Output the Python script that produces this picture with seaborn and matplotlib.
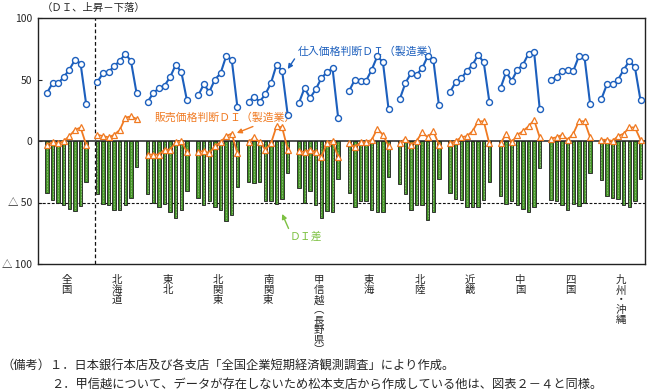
import matplotlib
matplotlib.use("Agg")
import matplotlib.pyplot as plt
import numpy as np
import pandas as pd
import seaborn as sns

sns.set_theme(style="white")
plt.rcParams['font.family'] = ['Noto Sans CJK JP', 'DejaVu Sans']

#-- data (8 quarters per region)
regions = ["全国", "北海道", "東北", "北関東", "南関東", "甲信越（長野県）",
           "東海", "北陸", "近畿", "中国", "四国", "九州・沖縄"]
region_labels = ["全\n国", "北\n海\n道", "東\n北", "北\n関\n東", "南\n関\n東",
                 "甲\n信\n越\n︵\n長\n野\n県\n︶", "東\n海", "北\n陸", "近\n畿",
                 "中\n国", "四\n国", "九\n州\n・\n沖\n縄"]

buy_di = [
    [39, 47, 47, 52, 58, 66, 63, 30],
    [48, 55, 56, 61, 65, 71, 65, 39],
    [32, 39, 43, 45, 52, 62, 56, 33],
    [37, 46, 40, 50, 55, 69, 66, 28],
    [32, 36, 32, 38, 47, 62, 57, 21],
    [31, 43, 35, 42, 51, 56, 59, 19],
    [41, 50, 49, 49, 58, 69, 64, 26],
    [34, 47, 55, 54, 59, 69, 66, 29],
    [40, 48, 51, 57, 62, 70, 64, 32],
    [43, 56, 49, 58, 62, 71, 72, 26],
    [50, 52, 57, 58, 57, 69, 68, 30],
    [34, 46, 46, 50, 58, 65, 60, 33],
]
sell_di = [
    [-3, -1, -2, 0, 4, 9, 11, -3],
    [5, 4, 3, 5, 9, 19, 20, 18],
    [-11, -11, -11, -7, -7, -1, 0, -9],
    [-9, -8, -10, -4, -1, 4, 6, -10],
    [-1, 3, -1, -7, -2, 12, 11, -7],
    [-8, -9, -7, -9, -13, -2, 0, -13],
    [-2, -5, -1, -1, 1, 10, 5, -4],
    [-2, 2, -3, 0, 7, 3, 8, -3],
    [-2, 0, 3, 4, 8, 16, 16, -2],
    [-2, 6, -1, 5, 8, 12, 17, 3],
    [2, 3, 5, 1, 6, 16, 16, 3],
    [1, 1, 0, 4, 6, 11, 11, 1],
]
gap_di = [
    [-42, -48, -50, -52, -55, -57, -53, -33],
    [-43, -51, -52, -56, -56, -52, -46, -21],
    [-43, -50, -54, -51, -58, -63, -56, -41],
    [-46, -52, -49, -54, -56, -65, -60, -37],
    [-33, -34, -33, -49, -49, -51, -47, -26],
    [-38, -50, -41, -52, -63, -57, -58, -31],
    [-42, -54, -49, -49, -56, -58, -58, -29],
    [-35, -43, -56, -52, -52, -64, -58, -31],
    [-42, -47, -48, -54, -54, -54, -48, -33],
    [-45, -51, -49, -52, -55, -58, -54, -22],
    [-48, -49, -52, -56, -51, -53, -50, -26],
    [-32, -45, -46, -47, -52, -54, -49, -31],
]

BLUE = "#1c5fbd"
ORANGE = "#f07a22"
GREEN = "#3f8f22"
LGREEN = "#7dc142"

#-- long dataframe, 9 slots per region (8 quarters + 1 gap)
rows = []
for g, reg in enumerate(regions):
    for q in range(8):
        rows.append([reg, g * 9 + q, buy_di[g][q], sell_di[g][q], gap_di[g][q]])
df = pd.DataFrame(rows, columns=["region", "pos", "buy", "sell", "gap"])

fig = plt.figure(figsize=(6.48, 3.91), dpi=100)
ax = fig.add_axes([38 / 648, 1 - 264 / 391, 607 / 648, 246 / 391])

ax.axhline(0, color="#333333", lw=1.2, zorder=1.5)
ax.axhline(-50, color="#111111", lw=0.8, ls=(0, (2.5, 1.5)), zorder=1.5)
ax.axvline(8.5, color="#111111", lw=0.9, ls=(0, (3, 2)), zorder=1.5)

sns.barplot(data=df, x="pos", y="gap", native_scale=True, width=0.6, color=GREEN,
            saturation=1, edgecolor="#1e1e1e", linewidth=0.6, errorbar=None,
            ax=ax, zorder=2)
ax.vlines(df["pos"], df["gap"] + 1, -1, colors="#cfe7bd", lw=0.5,
          linestyles=(0, (1, 1.2)), zorder=2.5)

sns.lineplot(data=df, x="pos", y="sell", units="region", estimator=None, sort=False,
             color=ORANGE, lw=1.3, marker="^", markersize=4.5, markerfacecolor="white",
             markeredgecolor=ORANGE, markeredgewidth=0.9, ax=ax, legend=False, zorder=4)
sns.lineplot(data=df, x="pos", y="buy", units="region", estimator=None, sort=False,
             color=BLUE, lw=1.5, marker="o", markersize=4.3, markerfacecolor="white",
             markeredgecolor=BLUE, markeredgewidth=1.0, ax=ax, legend=False, zorder=4)

ax.set_xlim(-1.6, 106.8)
ax.set_ylim(-100, 100)
ax.set_xlabel("")
ax.set_ylabel("")

centers = [g * 9 + 3.5 for g in range(len(regions))]
ax.set_xticks(centers)
ax.set_xticklabels(region_labels, fontsize=7.5, linespacing=1.0, va="top")
ax.tick_params(axis="x", length=0, pad=8)
ax.set_yticks([100, 50, 0, -50, -100])
ax.set_yticklabels(["100", "50", "0", "△ 50", "△ 100"], fontsize=7.5)
ax.tick_params(axis="y", direction="in", length=3, width=0.8, pad=4, left=True)

for s in ax.spines.values():
    s.set_color("#222222")
    s.set_linewidth(1.0)

ax.text(-1.0, 104, "（ＤＩ、上昇－下落）", fontsize=7.5, ha="left", va="bottom")

ax.annotate("仕入価格判断ＤＩ（製造業）", xy=(43.0, 58.5), xytext=(44.8, 72.4),
            color=BLUE, fontsize=7.8, va="center", ha="left",
            arrowprops=dict(arrowstyle="-|>", color=BLUE, lw=1.0, mutation_scale=7,
                            shrinkA=0, shrinkB=0, relpos=(0, 0.3)))
ax.annotate("販売価格判断ＤＩ（製造業）", xy=(33.9, 6.5), xytext=(19.3, 18.7),
            color=ORANGE, fontsize=7.8, va="center", ha="left",
            arrowprops=dict(arrowstyle="-|>", color=ORANGE, lw=1.0, mutation_scale=7,
                            shrinkA=0, shrinkB=0, relpos=(0.75, 0)))
ax.annotate("ＤＩ差", xy=(42.0, -59.3), xytext=(43.4, -78.0),
            color=LGREEN, fontsize=7.8, va="center", ha="left",
            arrowprops=dict(arrowstyle="-|>", color=LGREEN, lw=1.0, mutation_scale=7,
                            shrinkA=0, shrinkB=0, relpos=(0, 1)))

fig.text(2 / 648, 1 - 366 / 391,
         "（備考）１．日本銀行本店及び各支店「全国企業短期経済観測調査」により作成。",
         fontsize=8.8, va="center", ha="left")
fig.text(51 / 648, 1 - 384 / 391,
         "２．甲信越について、データが存在しないため松本支店から作成している他は、図表２－４と同様。",
         fontsize=8.8, va="center", ha="left")

fig.savefig("out.png", dpi=100)
